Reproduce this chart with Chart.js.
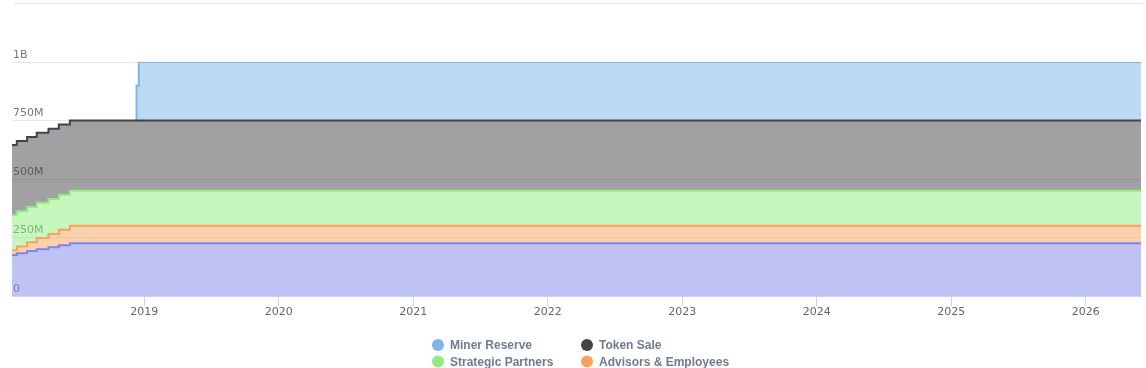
<!DOCTYPE html>
<html>
<head>
<meta charset="utf-8">
<script src="https://cdn.jsdelivr.net/npm/chart.js@4.4.1/dist/chart.umd.min.js"></script>
<style>
  html, body { margin: 0; padding: 0; background: #fff; }
  #wrap { position: relative; width: 1146px; height: 368px; }
  #topline { position: absolute; left: 14px; right: 4px; top: 3px; border-top: 1px solid #e3e3e3; }
</style>
</head>
<body>
<div id="wrap">
  <div id="topline"></div>
  <canvas id="supplyChart" width="1146" height="368"></canvas>
</div>
<script>
// Dates where the circulating supply changes (the last one just closes the range)
const dates = ['2018-01-07', '2018-01-20', '2018-02-17', '2018-03-15', '2018-04-16', '2018-05-14',
  '2018-06-13', '2018-12-10', '2018-12-11', '2018-12-17', '2026-05-31'];

// Tokens per allocation at each date, in millions
const minerReserve = [null, null, null, null, null, null, null, 0, 150, 250, 250];
const tokenSale = [300, 300, 300, 300, 300, 300, 300, 300, 300, 300, 300];
const strategicPartners = [150, 150, 150, 150, 150, 150, 150, 150, 150, 150, 150];
const advisorsEmployees = [20, 29, 38, 48, 57, 66, 75, 75, 75, 75, 75];
const otherAllocation = [175, 183, 192, 200, 208, 217, 225, 225, 225, 225, 225];

// Axis ticks
const yearTicks = [2019, 2020, 2021, 2022, 2023, 2024, 2025, 2026];
const yearLabels = ['2019', '2020', '2021', '2022', '2023', '2024', '2025', '2026'];
const valueTicks = [0, 250, 500, 750, 1000];
const valueLabels = ['0', '250M', '500M', '750M', '1B'];

// legend order as in the original (two columns)
const legendOrder = ['Miner Reserve', 'Token Sale', 'Strategic Partners', 'Advisors & Employees', 'Other'];

// turn 'YYYY-MM-DD' into a fractional year for the linear x axis
function toYear(s) {
  const d = Date.parse(s + 'T00:00:00Z');
  const y = Number(s.slice(0, 4));
  const start = Date.UTC(y, 0, 1);
  const end = Date.UTC(y + 1, 0, 1);
  return y + (d - start) / (end - start);
}

const xs = dates.map(toYear);
const pts = (arr) => arr.map((v, i) => ({ x: xs[i], y: v }));

function area(label, values, color, fill) {
  return {
    label: label,
    data: pts(values),
    borderColor: color,
    backgroundColor: color + '80',
    borderWidth: 2,
    pointRadius: 0,
    stepped: true,
    fill: fill,
  };
}

// Draw the legend as a small grid like the original
const legendGrid = {
  id: 'legendGrid',
  afterDraw(chart) {
    const ctx = chart.ctx;
    ctx.save();
    ctx.font = 'bold 12px "Liberation Sans", Arial, sans-serif';
    ctx.textBaseline = 'middle';
    legendOrder.forEach((name, i) => {
      const ds = chart.data.datasets.find((d) => d.label === name);
      const x = 432 + (i % 2) * 149;
      const y = 345 + Math.floor(i / 2) * 16.5;
      ctx.fillStyle = ds.borderColor;
      ctx.beginPath();
      ctx.arc(x + 6, y, 6, 0, Math.PI * 2);
      ctx.fill();
      ctx.fillStyle = '#707a91';
      ctx.fillText(name, x + 18, y + 1);
    });
    ctx.restore();
  },
};

const ctx = document.getElementById('supplyChart').getContext('2d');
const supplyChart = new Chart(ctx, {
  type: 'line',
  data: {
    // bottom of the stack first
    datasets: [
      area('Other', otherAllocation, '#8085e9', 'origin'),
      area('Advisors & Employees', advisorsEmployees, '#f7a35c', '-1'),
      area('Strategic Partners', strategicPartners, '#90ed7d', '-1'),
      area('Token Sale', tokenSale, '#434348', '-1'),
      area('Miner Reserve', minerReserve, '#7cb5ec', '-1'),
    ],
  },
  options: {
    responsive: false,
    animation: false,
    layout: { padding: { left: 10, right: 5, top: 62, bottom: 46 } },
    scales: {
      x: {
        type: 'linear',
        min: xs[0],
        max: xs[xs.length - 1],
        afterBuildTicks: (scale) => {
          scale.ticks = yearTicks.map((v) => ({ value: v }));
        },
        afterFit: (scale) => {
          scale.height = 26;
        },
        ticks: {
          callback: (v) => yearLabels[yearTicks.indexOf(v)],
          color: '#666666',
          font: { family: '"DejaVu Sans", sans-serif', size: 11 },
          padding: 0,
          maxRotation: 0,
        },
        grid: {
          drawOnChartArea: false,
          drawTicks: true,
          tickLength: 10,
          color: '#ccd6eb',
        },
        border: { color: '#ccd6eb' },
      },
      y: {
        stacked: true,
        min: 0,
        max: 1000,
        afterBuildTicks: (scale) => {
          scale.ticks = valueTicks.map((v) => ({ value: v }));
        },
        ticks: {
          mirror: true,
          padding: 1,
          labelOffset: -7,
          callback: (v) => valueLabels[valueTicks.indexOf(v)],
          color: '#777777',
          font: { family: '"DejaVu Sans", sans-serif', size: 11 },
        },
        grid: { color: '#e6e6e6', drawTicks: false },
        border: { display: false },
      },
    },
    plugins: {
      legend: { display: false },
      tooltip: { enabled: false },
    },
  },
  plugins: [legendGrid],
});
</script>
</body>
</html>
